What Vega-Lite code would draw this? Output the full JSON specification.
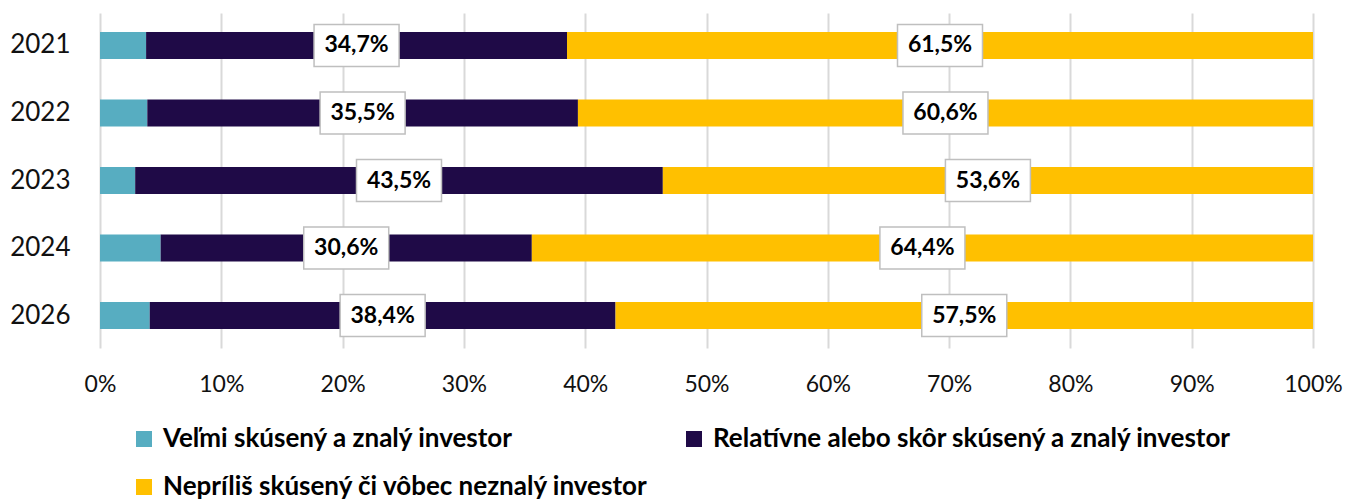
{
  "$schema": "https://vega.github.io/schema/vega-lite/v6.json",
  "width": 1213,
  "height": 335,
  "autosize": {"type": "none"},
  "padding": {"left": 100, "top": 13, "right": 34, "bottom": 154},
  "background": "white",
  "config": {
    "locale": {"number": {"decimal": ",", "thousands": " ", "grouping": [3], "currency": ["", " €"]}},
    "view": {"stroke": null},
    "font": "Lato"
  },
  "data": {
    "values": [
      {"year": "2021", "category": "Veľmi skúsený a znalý investor", "order": 1, "value": 0.038},
      {"year": "2021", "category": "Relatívne alebo skôr skúsený a znalý investor", "order": 2, "value": 0.347},
      {"year": "2021", "category": "Nepríliš skúsený či vôbec neznalý investor", "order": 3, "value": 0.615},
      {"year": "2022", "category": "Veľmi skúsený a znalý investor", "order": 1, "value": 0.039},
      {"year": "2022", "category": "Relatívne alebo skôr skúsený a znalý investor", "order": 2, "value": 0.355},
      {"year": "2022", "category": "Nepríliš skúsený či vôbec neznalý investor", "order": 3, "value": 0.606},
      {"year": "2023", "category": "Veľmi skúsený a znalý investor", "order": 1, "value": 0.029},
      {"year": "2023", "category": "Relatívne alebo skôr skúsený a znalý investor", "order": 2, "value": 0.435},
      {"year": "2023", "category": "Nepríliš skúsený či vôbec neznalý investor", "order": 3, "value": 0.536},
      {"year": "2024", "category": "Veľmi skúsený a znalý investor", "order": 1, "value": 0.05},
      {"year": "2024", "category": "Relatívne alebo skôr skúsený a znalý investor", "order": 2, "value": 0.306},
      {"year": "2024", "category": "Nepríliš skúsený či vôbec neznalý investor", "order": 3, "value": 0.644},
      {"year": "2026", "category": "Veľmi skúsený a znalý investor", "order": 1, "value": 0.041},
      {"year": "2026", "category": "Relatívne alebo skôr skúsený a znalý investor", "order": 2, "value": 0.384},
      {"year": "2026", "category": "Nepríliš skúsený či vôbec neznalý investor", "order": 3, "value": 0.575}
    ]
  },
  "transform": [
    {"stack": "value", "groupby": ["year"], "sort": [{"field": "order", "order": "ascending"}], "as": ["v0", "v1"]},
    {"calculate": "(datum.v0 + datum.v1) / 2", "as": "mid"}
  ],
  "encoding": {
    "y": {
      "field": "year",
      "type": "nominal",
      "scale": {"paddingInner": 0.6, "paddingOuter": 0.28},
      "axis": {
        "title": null,
        "domain": false,
        "ticks": false,
        "labelFontSize": 26,
        "labelFont": "Lato",
        "labelColor": "#111111",
        "labelPadding": 30
      }
    }
  },
  "layer": [
    {
      "mark": {"type": "bar"},
      "encoding": {
        "x": {
          "field": "v0",
          "type": "quantitative",
          "scale": {"domain": [0, 1], "nice": false},
          "axis": {
            "title": null,
            "format": ".0%",
            "values": [0, 0.1, 0.2, 0.3, 0.4, 0.5, 0.6, 0.7, 0.8, 0.9, 1],
            "grid": true,
            "gridColor": "#d9d9d9",
            "gridWidth": 2,
            "domain": false,
            "ticks": false,
            "labelFlush": false,
            "labelFontSize": 23,
            "labelFont": "Lato",
            "labelColor": "#111111",
            "labelPadding": 25
          }
        },
        "x2": {"field": "v1"},
        "color": {
          "field": "category",
          "type": "nominal",
          "scale": {
            "domain": ["Veľmi skúsený a znalý investor", "Relatívne alebo skôr skúsený a znalý investor", "Nepríliš skúsený či vôbec neznalý investor"],
            "range": ["#57adc1", "#1f0a47", "#ffc000"]
          },
          "legend": {
            "title": null,
            "orient": "none",
            "legendX": 31,
            "legendY": 413,
            "direction": "horizontal",
            "columns": 2,
            "columnPadding": 32,
            "rowPadding": 22,
            "symbolType": "square",
            "symbolSize": 256,
            "symbolStrokeWidth": 0,
            "labelFontSize": 26,
            "labelFont": "Lato",
            "labelFontWeight": "bold",
            "labelColor": "#000000",
            "labelOffset": 6,
            "labelLimit": 900
          }
        }
      }
    },
    {
      "transform": [{"filter": "datum.order > 1"}],
      "mark": {
        "type": "point",
        "shape": "M-1,-0.494H1V0.494H-1Z",
        "size": 7225,
        "filled": true,
        "fill": "white",
        "stroke": "#bfbfbf",
        "strokeWidth": 1.5,
        "opacity": 1
      },
      "encoding": {
        "x": {"field": "mid", "type": "quantitative"}
      }
    },
    {
      "transform": [{"filter": "datum.order > 1"}],
      "mark": {
        "type": "text",
        "font": "Lato",
        "fontWeight": "bold",
        "fontSize": 23,
        "color": "#000000",
        "baseline": "middle",
        "align": "center"
      },
      "encoding": {
        "x": {"field": "mid", "type": "quantitative"},
        "text": {"field": "value", "type": "quantitative", "format": ".1%"}
      }
    }
  ]
}
